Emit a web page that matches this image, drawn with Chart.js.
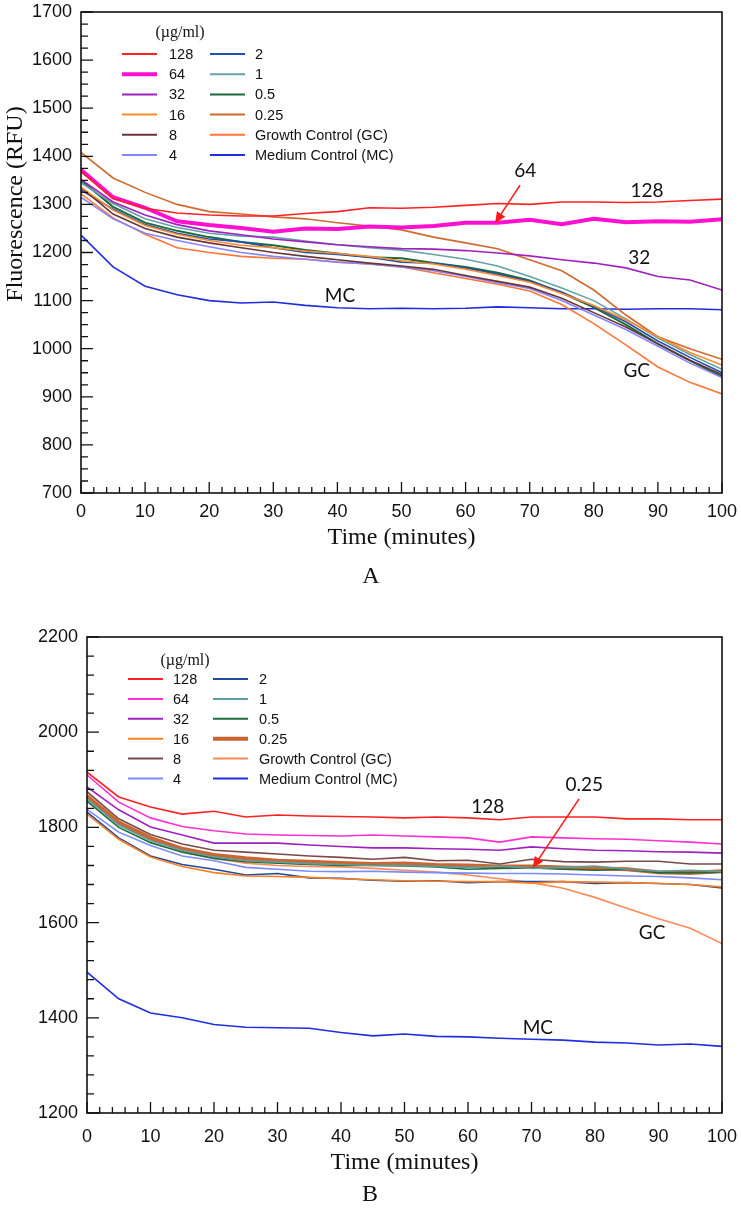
<!DOCTYPE html>
<html>
<head>
<meta charset="utf-8">
<script src="https://cdn.jsdelivr.net/npm/chart.js@4.4.0/dist/chart.umd.min.js"></script>
<style>
  body { margin: 0; background: #fff; }
  #wrapA { position: absolute; left: 0; top: 0; width: 741px; height: 600px; }
  #wrapB { position: absolute; left: 0; top: 600px; width: 741px; height: 617px; }
</style>
</head>
<body>
<div id="wrapA"><canvas id="chartA" width="741" height="600"></canvas></div>
<div id="wrapB"><canvas id="chartB" width="741" height="617"></canvas></div>
<script>
// time axis (minutes), shared by both panels
const times = [0, 5, 10, 15, 20, 25, 30, 35, 40, 45, 50, 55, 60, 65, 70, 75, 80, 85, 90, 95, 100]
const seriesLabels = ['128', '64', '32', '16', '8', '4', '2', '1', '0.5', '0.25', 'Growth Control (GC)', 'Medium Control (MC)']

// panel A readings (RFU)
const a128 = [1368, 1312, 1292, 1282, 1278, 1276, 1276, 1281, 1285, 1293, 1292, 1294, 1298, 1302, 1300, 1305, 1305, 1304, 1305, 1308, 1311]
const a64 = [1372, 1315, 1293, 1265, 1257, 1251, 1243, 1250, 1249, 1254, 1252, 1255, 1262, 1262, 1268, 1259, 1270, 1263, 1265, 1264, 1269]
const a32 = [1352, 1305, 1278, 1258, 1245, 1237, 1228, 1222, 1216, 1212, 1208, 1207, 1204, 1199, 1193, 1185, 1178, 1168, 1150, 1143, 1122]
const a16 = [1336, 1288, 1256, 1238, 1225, 1215, 1210, 1203, 1198, 1192, 1183, 1176, 1165, 1152, 1138, 1115, 1090, 1060, 1025, 992, 966]
const a8 = [1335, 1280, 1250, 1232, 1220, 1210, 1200, 1192, 1185, 1178, 1172, 1165, 1152, 1140, 1128, 1105, 1075, 1045, 1010, 976, 946]
const a4 = [1315, 1270, 1240, 1225, 1212, 1200, 1192, 1186, 1180, 1176, 1170, 1162, 1150, 1137, 1125, 1100, 1070, 1040, 1005, 970, 940]
const a2 = [1330, 1290, 1258, 1240, 1228, 1222, 1210, 1200, 1196, 1190, 1180, 1178, 1168, 1155, 1140, 1118, 1088, 1056, 1016, 982, 950]
const a1 = [1345, 1302, 1270, 1252, 1240, 1234, 1232, 1224, 1216, 1210, 1205, 1196, 1186, 1172, 1150, 1126, 1100, 1062, 1022, 988, 957]
const a05 = [1350, 1295, 1262, 1245, 1232, 1222, 1215, 1205, 1198, 1190, 1188, 1178, 1170, 1158, 1142, 1116, 1086, 1050, 1010, 975, 942]
const a025 = [1408, 1355, 1325, 1300, 1285, 1280, 1274, 1270, 1262, 1255, 1247, 1232, 1220, 1208, 1185, 1162, 1122, 1070, 1025, 1000, 978]
const aGC = [1322, 1272, 1238, 1210, 1200, 1192, 1188, 1186, 1180, 1176, 1170, 1158, 1146, 1134, 1120, 1092, 1052, 1008, 962, 930, 906]
const aMC = [1236, 1170, 1130, 1112, 1100, 1095, 1097, 1090, 1085, 1083, 1084, 1083, 1084, 1087, 1085, 1083, 1083, 1082, 1083, 1083, 1081]

// panel B readings (RFU)
const b128 = [1916, 1864, 1843, 1828, 1834, 1822, 1826, 1824, 1823, 1822, 1820, 1822, 1820, 1816, 1822, 1822, 1822, 1818, 1818, 1816, 1816]
const b64 = [1910, 1853, 1820, 1802, 1793, 1786, 1784, 1783, 1782, 1784, 1782, 1780, 1778, 1769, 1780, 1778, 1776, 1775, 1772, 1769, 1765]
const b32 = [1885, 1837, 1801, 1784, 1767, 1767, 1767, 1763, 1760, 1757, 1757, 1755, 1754, 1752, 1759, 1755, 1752, 1751, 1749, 1748, 1746]
const b16 = [1828, 1775, 1738, 1718, 1705, 1698, 1697, 1695, 1692, 1690, 1688, 1687, 1686, 1686, 1683, 1686, 1685, 1684, 1682, 1680, 1675]
const b8 = [1875, 1818, 1785, 1765, 1752, 1748, 1744, 1740, 1737, 1733, 1737, 1730, 1731, 1723, 1733, 1728, 1727, 1729, 1729, 1723, 1723]
const b4 = [1838, 1790, 1762, 1740, 1730, 1716, 1712, 1708, 1707, 1708, 1706, 1705, 1704, 1703, 1703, 1702, 1700, 1698, 1697, 1694, 1690]
const b2 = [1832, 1778, 1740, 1722, 1712, 1700, 1703, 1694, 1693, 1689, 1687, 1688, 1684, 1686, 1686, 1686, 1682, 1684, 1682, 1680, 1673]
const b1 = [1860, 1805, 1772, 1752, 1738, 1730, 1727, 1724, 1722, 1720, 1720, 1718, 1716, 1719, 1714, 1716, 1719, 1712, 1708, 1710, 1707]
const b05 = [1855, 1800, 1768, 1748, 1735, 1728, 1725, 1722, 1720, 1720, 1719, 1717, 1712, 1714, 1715, 1712, 1710, 1712, 1705, 1705, 1706]
const b025 = [1866, 1810, 1778, 1755, 1742, 1735, 1730, 1728, 1725, 1723, 1724, 1721, 1720, 1718, 1718, 1716, 1714, 1712, 1706, 1704, 1708]
const bGC = [1862, 1808, 1775, 1750, 1735, 1725, 1720, 1718, 1717, 1714, 1710, 1706, 1700, 1692, 1684, 1672, 1653, 1630, 1608, 1588, 1556]
const bMC = [1496, 1440, 1410, 1400, 1386, 1380, 1379, 1378, 1369, 1362, 1366, 1361, 1360, 1357, 1355, 1353, 1349, 1347, 1343, 1345, 1340]

const colorsA = ['#ff2222', '#ff10d0', '#a020c0', '#ff8a2a', '#6b3535', '#8585ff', '#2050b0', '#62a2a6', '#1b6b3c', '#d0692e', '#ff7535', '#1f2fe0']
const widthsA = [1.6, 4, 1.6, 1.6, 1.6, 1.6, 1.6, 1.6, 2, 1.6, 1.6, 1.6]
const colorsB = ['#ff2222', '#ff30d4', '#a020c0', '#ff8020', '#7a4a4a', '#7a8aff', '#1f4aa0', '#5f9ea0', '#1b6b3c', '#cc6530', '#ff8a55', '#1f2fe0']
const widthsB = [1.6, 1.6, 1.6, 1.6, 1.6, 1.6, 1.6, 1.6, 1.6, 4, 1.6, 1.6]

const serif = '"Liberation Serif", "Times New Roman", serif'
const sans = '"Liberation Sans", Arial, sans-serif'

function buildSets(arrays, colors, widths) {
    return arrays.map((arr, i) => ({
        label: seriesLabels[i],
        data: times.map((t, j) => ({x: t, y: arr[j]})),
        borderColor: colors[i],
        borderWidth: widths[i],
        pointRadius: 0,
        tension: 0,
        fill: false
    }))
}

function arrow(ctx, x1, y1, x2, y2, color) {
    const ang = Math.atan2(y2 - y1, x2 - x1)
    ctx.strokeStyle = color
    ctx.fillStyle = color
    ctx.lineWidth = 1.6
    ctx.beginPath()
    ctx.moveTo(x1, y1)
    ctx.lineTo(x2 - 6 * Math.cos(ang), y2 - 6 * Math.sin(ang))
    ctx.stroke()
    ctx.beginPath()
    ctx.moveTo(x2, y2)
    ctx.lineTo(x2 - 11 * Math.cos(ang) + 5 * Math.sin(ang), y2 - 11 * Math.sin(ang) - 5 * Math.cos(ang))
    ctx.lineTo(x2 - 11 * Math.cos(ang) - 5 * Math.sin(ang), y2 - 11 * Math.sin(ang) + 5 * Math.cos(ang))
    ctx.closePath()
    ctx.fill()
}

// frame, inward ticks, legend, axis titles and annotations
function decor(cfg) {
    return {
        id: 'decor',
        afterDraw(chart) {
            const ctx = chart.ctx
            const area = chart.chartArea
            const xs = chart.scales.x
            const ys = chart.scales.y
            ctx.save()
            ctx.strokeStyle = '#111'
            ctx.lineWidth = 1.6
            ctx.strokeRect(area.left, area.top, area.right - area.left, area.bottom - area.top)

            ctx.lineWidth = 1.3
            ctx.beginPath()
            for (let v = xs.min; v <= xs.max; v += 2) {
                const px = xs.getPixelForValue(v)
                const len = v % 10 === 0 ? 11 : 6
                ctx.moveTo(px, area.bottom)
                ctx.lineTo(px, area.bottom - len)
            }
            for (let v = ys.min; v <= ys.max; v += cfg.yMinor) {
                const py = ys.getPixelForValue(v)
                const len = (v - ys.min) % cfg.yMajor === 0 ? 12 : 7
                ctx.moveTo(area.left, py)
                ctx.lineTo(area.left + len, py)
            }
            ctx.stroke()

            // legend, two columns
            const lg = cfg.legend
            ctx.fillStyle = '#111'
            ctx.font = '16px ' + serif
            ctx.textAlign = 'center'
            ctx.textBaseline = 'middle'
            ctx.fillText('(\u00b5g/ml)', lg.headX, lg.headY)
            ctx.font = '14.5px ' + sans
            ctx.textAlign = 'left'
            chart.data.datasets.forEach((ds, i) => {
                const col = i < 6 ? 0 : 1
                const row = i % 6
                const y = lg.top + row * lg.gap
                const x0 = lg.lineX[col]
                ctx.strokeStyle = ds.borderColor
                ctx.lineWidth = ds.borderWidth > 2 ? 4 : 2
                ctx.beginPath()
                ctx.moveTo(x0, y)
                ctx.lineTo(x0 + 35, y)
                ctx.stroke()
                ctx.fillStyle = '#111'
                ctx.fillText(ds.label, lg.textX[col], y + 1)
            })

            // axis titles
            ctx.fillStyle = '#111'
            ctx.font = '24px ' + serif
            ctx.textAlign = 'center'
            ctx.fillText('Time (minutes)', (area.left + area.right) / 2, cfg.xTitleY)
            ctx.fillText(cfg.panel, cfg.panelX, cfg.panelY)
            ctx.save()
            ctx.translate(cfg.yTitleX, cfg.yTitleY)
            ctx.rotate(-Math.PI / 2)
            ctx.fillText('Fluorescence (RFU)', 0, 0)
            ctx.restore()

            // annotations in data space
            ctx.font = '19px Lato, "Open Sans", sans-serif'
            cfg.notes.forEach(n => {
                ctx.fillStyle = '#111'
                ctx.fillText(n.text, xs.getPixelForValue(n.x), ys.getPixelForValue(n.y))
            })
            cfg.arrows.forEach(a => {
                arrow(ctx, xs.getPixelForValue(a.x1), ys.getPixelForValue(a.y1),
                    xs.getPixelForValue(a.x2), ys.getPixelForValue(a.y2), '#ff1a1a')
            })
            ctx.restore()
        }
    }
}

function makeChart(id, datasets, yMin, yMax, yStep, area, cfg) {
    const ctl = document.getElementById(id)
    return new Chart(ctl, {
        type: 'line',
        data: {datasets: datasets},
        options: {
            responsive: false,
            animation: false,
            devicePixelRatio: 1,
            layout: {padding: {top: area.top, right: area.right, left: 0, bottom: 0}},
            plugins: {legend: {display: false}, tooltip: {enabled: false}},
            scales: {
                x: {
                    type: 'linear', min: 0, max: 100,
                    grid: {display: false, drawTicks: false},
                    border: {display: false},
                    ticks: {stepSize: 10, padding: area.xPad, color: '#111', font: {family: sans, size: 18},
                        callback: v => String(v)},
                    afterFit(s) {
                        s.height = area.xHeight
                        s.paddingLeft = 0
                        s.paddingRight = 0
                    }
                },
                y: {
                    min: yMin, max: yMax,
                    grid: {display: false, drawTicks: false},
                    border: {display: false},
                    ticks: {stepSize: yStep, padding: 9, color: '#111', font: {family: sans, size: 18},
                        callback: v => String(v)},
                    afterFit(s) {
                        s.width = area.yWidth
                        s.paddingTop = 0
                        s.paddingBottom = 0
                    }
                }
            }
        },
        plugins: [decor(cfg)]
    })
}

makeChart('chartA',
    buildSets([a128, a64, a32, a16, a8, a4, a2, a1, a05, a025, aGC, aMC], colorsA, widthsA),
    700, 1700, 100,
    {top: 12, right: 19, xHeight: 107, yWidth: 81, xPad: 8},
    {
        yMinor: 25, yMajor: 100, panel: 'A', panelX: 371, panelY: 577, xTitleY: 538,
        yTitleX: 16, yTitleY: 204,
        legend: {headX: 180, headY: 33, top: 54, gap: 20.2, lineX: [122, 210], textX: [169, 255]},
        notes: [
            {text: '64', x: 69.3, y: 1369},
            {text: '128', x: 88.3, y: 1328},
            {text: '32', x: 87.1, y: 1189},
            {text: 'MC', x: 40.4, y: 1110},
            {text: 'GC', x: 86.7, y: 954}
        ],
        arrows: [{x1: 68.5, y1: 1340, x2: 64.6, y2: 1261}]
    })

makeChart('chartB',
    buildSets([b128, b64, b32, b16, b8, b4, b2, b1, b05, b025, bGC, bMC], colorsB, widthsB),
    1200, 2200, 200,
    {top: 37, right: 19, xHeight: 104, yWidth: 87, xPad: 13},
    {
        yMinor: 40, yMajor: 200, panel: 'B', panelX: 370, panelY: 595, xTitleY: 563,
        yTitleX: 21, yTitleY: 829,
        legend: {headX: 185, headY: 61, top: 79, gap: 19.9, lineX: [128, 213], textX: [173, 259]},
        notes: [
            {text: '0.25', x: 78.3, y: 1889},
            {text: '128', x: 63.1, y: 1843},
            {text: 'GC', x: 89, y: 1578},
            {text: 'MC', x: 71, y: 1379}
        ],
        arrows: [{x1: 77.5, y1: 1860, x2: 70.2, y2: 1715}]
    })
</script>
</body>
</html>
